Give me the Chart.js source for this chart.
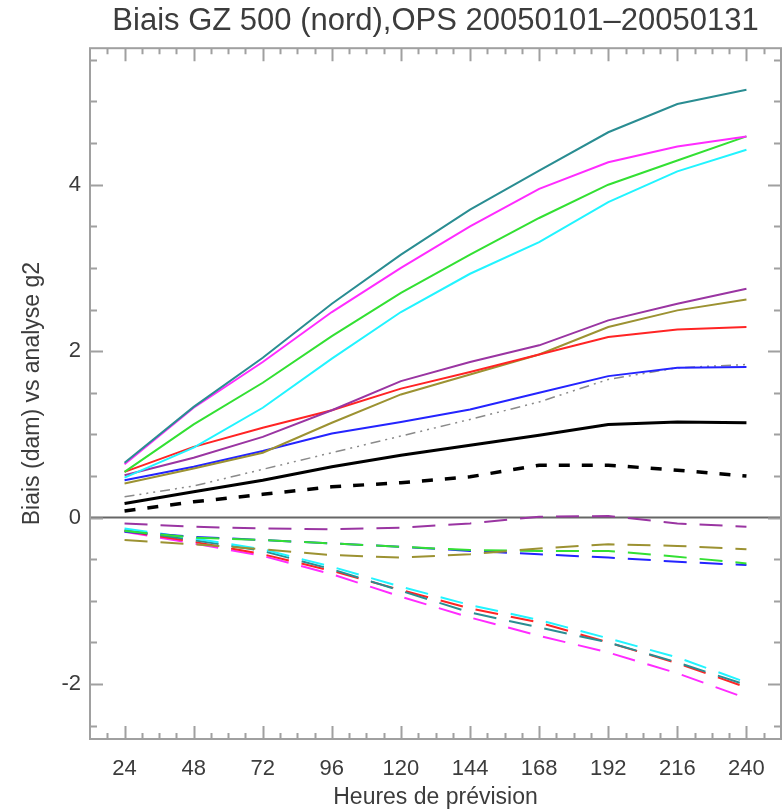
<!DOCTYPE html>
<html>
<head>
<meta charset="utf-8">
<script src="https://cdn.jsdelivr.net/npm/chart.js@4.4.1/dist/chart.umd.min.js"></script>
<style>
  html, body { margin: 0; padding: 0; background: #fff; }
  #wrap { width: 782px; height: 812px; }
</style>
</head>
<body>
<div id="wrap"><canvas id="biaisChart"></canvas></div>
<script>
// forecast ranges (hours) and axis labels
const hours = [24, 48, 72, 96, 120, 144, 168, 192, 216, 240];
const yTickValues = [-2, 0, 2, 4];

// solid curves
const tealSolid    = [0.66, 1.33, 1.92, 2.57, 3.16, 3.70, 4.17, 4.63, 4.97, 5.14];
const magentaSolid = [0.64, 1.32, 1.87, 2.47, 3.00, 3.50, 3.95, 4.27, 4.46, 4.58];
const greenSolid   = [0.55, 1.12, 1.62, 2.18, 2.70, 3.16, 3.60, 4.00, 4.29, 4.58];
const cyanSolid    = [0.48, 0.84, 1.32, 1.91, 2.47, 2.93, 3.31, 3.79, 4.16, 4.42];
const purpleSolid  = [0.51, 0.72, 0.97, 1.29, 1.64, 1.87, 2.07, 2.37, 2.57, 2.75];
const redSolid     = [0.55, 0.85, 1.08, 1.29, 1.55, 1.75, 1.96, 2.17, 2.26, 2.29];
const oliveSolid   = [0.41, 0.59, 0.78, 1.14, 1.48, 1.72, 1.96, 2.29, 2.49, 2.62];
const blueSolid    = [0.45, 0.61, 0.80, 1.01, 1.15, 1.30, 1.50, 1.70, 1.80, 1.81];
const grayDashDot  = [0.25, 0.38, 0.58, 0.78, 0.98, 1.18, 1.39, 1.66, 1.80, 1.84];
const blackSolid   = [0.17, 0.31, 0.45, 0.61, 0.75, 0.87, 0.99, 1.12, 1.15, 1.14];
const blackDashed  = [0.08, 0.19, 0.28, 0.37, 0.42, 0.49, 0.63, 0.63, 0.57, 0.50];

// dashed curves (negative side)
const purpleDashed  = [-0.07, -0.11, -0.13, -0.14, -0.12, -0.07, 0.01, 0.02, -0.07, -0.11];
const oliveDashed   = [-0.27, -0.32, -0.38, -0.45, -0.48, -0.44, -0.37, -0.32, -0.34, -0.38];
const greenDashed   = [-0.16, -0.24, -0.27, -0.31, -0.35, -0.39, -0.40, -0.40, -0.47, -0.55];
const blueDashed    = [-0.17, -0.23, -0.27, -0.31, -0.35, -0.40, -0.44, -0.48, -0.53, -0.57];
const cyanDashed    = [-0.13, -0.25, -0.38, -0.59, -0.83, -1.05, -1.23, -1.45, -1.68, -1.98];
const tealDashed    = [-0.15, -0.27, -0.40, -0.62, -0.88, -1.14, -1.32, -1.50, -1.74, -2.01];
const redDashed     = [-0.16, -0.29, -0.44, -0.64, -0.87, -1.09, -1.26, -1.50, -1.75, -2.04];
const magentaDashed = [-0.17, -0.31, -0.46, -0.68, -0.95, -1.20, -1.42, -1.62, -1.87, -2.17];

const pts = (vals) => hours.map((h, i) => ({ x: h, y: vals[i] }));

function line(vals, color, width, dash) {
  return {
    data: pts(vals),
    borderColor: color,
    borderWidth: width,
    borderDash: dash || [],
    pointRadius: 0,
    tension: 0,
    fill: false
  };
}

const LONG = [23, 13];
const TXT = '#3c3c3c';

// frame, inward tick marks and the zero line
const idlFrame = {
  id: 'idlFrame',
  beforeDatasetsDraw(chart) {
    const { ctx, chartArea: a, scales: { y } } = chart;
    const y0 = y.getPixelForValue(0);
    ctx.save();
    ctx.strokeStyle = '#666';
    ctx.lineWidth = 2;
    ctx.beginPath();
    ctx.moveTo(a.left, y0);
    ctx.lineTo(a.right, y0);
    ctx.stroke();
    ctx.restore();
  },
  afterDraw(chart) {
    const { ctx, chartArea: a, scales: { x, y } } = chart;
    ctx.save();
    ctx.strokeStyle = '#a0a0a0';
    ctx.lineWidth = 2;
    ctx.strokeRect(a.left, a.top, a.right - a.left, a.bottom - a.top);
    ctx.beginPath();
    for (let v = 18; v < 252; v += 6) {
      const px = Math.round(x.getPixelForValue(v)) + 0.5;
      const len = v % 24 === 0 ? 13 : 6;
      ctx.moveTo(px, a.bottom); ctx.lineTo(px, a.bottom - len);
      ctx.moveTo(px, a.top); ctx.lineTo(px, a.top + len);
    }
    for (let v = -2.5; v <= 5.5; v += 0.5) {
      const py = Math.round(y.getPixelForValue(v)) + 0.5;
      const len = v % 2 === 0 ? 13 : 7;
      ctx.moveTo(a.left, py); ctx.lineTo(a.left + len, py);
      ctx.moveTo(a.right, py); ctx.lineTo(a.right - len, py);
    }
    ctx.stroke();
    ctx.restore();
  }
};

const ctx = document.getElementById('biaisChart').getContext('2d');
new Chart(ctx, {
  type: 'line',
  data: {
    datasets: [
      line(tealSolid, '#2a8d92', 2),
      line(magentaSolid, '#ff2cff', 2),
      line(greenSolid, '#33e033', 2),
      line(cyanSolid, '#22f4ff', 2),
      line(purpleSolid, '#9a35a2', 2),
      line(redSolid, '#ff2424', 2),
      line(oliveSolid, '#9c9232', 2),
      line(blueSolid, '#2424ff', 2),
      line(grayDashDot, '#8a8a8a', 1.5, [10, 5, 2, 5, 2, 5, 2, 5]),
      line(blackSolid, '#000000', 3),
      line(blackDashed, '#000000', 3.5, [11, 12]),
      line(purpleDashed, '#9a35a2', 2, LONG),
      line(oliveDashed, '#9c9232', 2, LONG),
      line(greenDashed, '#33e033', 2, LONG),
      line(blueDashed, '#2424ff', 2, LONG),
      line(cyanDashed, '#22f4ff', 2, LONG),
      line(tealDashed, '#2a8d92', 2, LONG),
      line(redDashed, '#ff2424', 2, LONG),
      line(magentaDashed, '#ff2cff', 2, LONG)
    ]
  },
  options: {
    responsive: true,
    maintainAspectRatio: false,
    animation: false,
    devicePixelRatio: 1,
    layout: { padding: { left: 0, right: 1, top: 0, bottom: 0 } },
    scales: {
      x: {
        type: 'linear',
        min: 12,
        max: 252,
        afterBuildTicks: (s) => { s.ticks = hours.map(v => ({ value: v })); },
        afterFit: (s) => { s.height = 73; },
        grid: { display: false, drawTicks: false },
        border: { display: false },
        ticks: {
          font: { family: 'Liberation Sans', size: 22 },
          color: TXT,
          padding: 17,
          maxRotation: 0
        },
        title: {
          display: true,
          text: 'Heures de prévision',
          font: { family: 'Liberation Sans', size: 23 },
          color: TXT,
          padding: { top: 0, bottom: 1 }
        }
      },
      y: {
        min: -2.66,
        max: 5.64,
        afterBuildTicks: (s) => { s.ticks = yTickValues.map(v => ({ value: v })); },
        afterFit: (s) => { s.width = 90; },
        grid: { display: false, drawTicks: false },
        border: { display: false },
        ticks: {
          font: { family: 'Liberation Sans', size: 22 },
          color: TXT,
          padding: 9
        },
        title: {
          display: true,
          text: 'Biais (dam) vs analyse g2',
          font: { family: 'Liberation Sans', size: 23 },
          color: TXT,
          padding: { top: 19, bottom: 0 }
        }
      }
    },
    plugins: {
      legend: { display: false },
      tooltip: { enabled: false },
      title: {
        display: true,
        fullSize: false,
        text: 'Biais GZ 500 (nord),OPS 20050101\u201320050131',
        font: { family: 'Liberation Sans', size: 31, weight: 'normal' },
        color: TXT,
        padding: { top: 3, bottom: 8 }
      }
    }
  },
  plugins: [idlFrame]
});
</script>
</body>
</html>
